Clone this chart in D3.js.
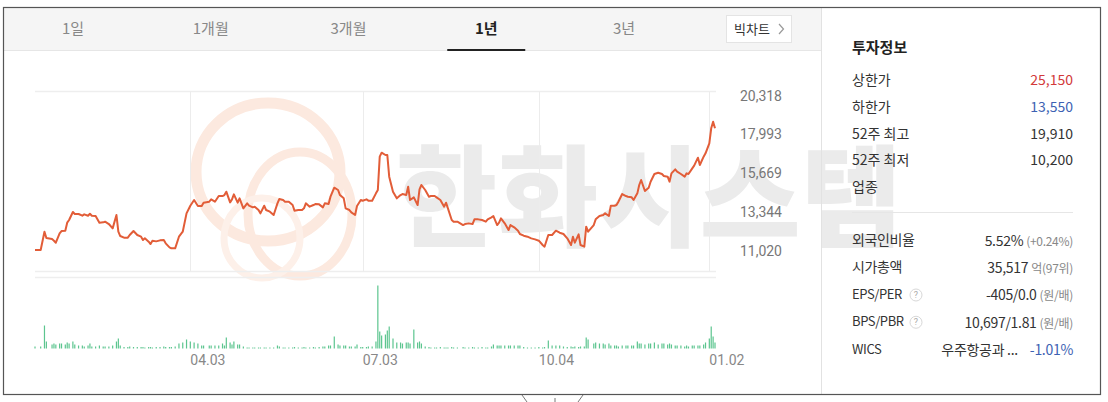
<!DOCTYPE html>
<html><head><meta charset="utf-8">
<script src="https://cdn.jsdelivr.net/npm/d3@7"></script>
<style>
html,body{margin:0;padding:0;background:#fff;}
svg{display:block;}
</style></head><body>
<svg id="c" width="1108" height="402"></svg>
<script>
// ---------------- DATA ----------------
const dates = [
"2024-01-12","2024-01-15","2024-01-17","2024-01-18","2024-01-21","2024-01-22","2024-01-23","2024-01-25","2024-01-26","2024-01-28",
"2024-01-29","2024-01-30","2024-02-01","2024-02-02","2024-02-04","2024-02-06","2024-02-07","2024-02-09","2024-02-10","2024-02-11",
"2024-02-13","2024-02-15","2024-02-17","2024-02-18","2024-02-20","2024-02-22","2024-02-24","2024-02-25","2024-02-26","2024-02-28",
"2024-03-01","2024-03-02","2024-03-04","2024-03-06","2024-03-08","2024-03-09","2024-03-10","2024-03-12","2024-03-13","2024-03-14",
"2024-03-16","2024-03-18","2024-03-20","2024-03-21","2024-03-23","2024-03-24","2024-03-26","2024-03-28","2024-03-30","2024-04-01",
"2024-04-03","2024-04-05","2024-04-07","2024-04-09","2024-04-10","2024-04-13","2024-04-14","2024-04-16","2024-04-18","2024-04-20",
"2024-04-21","2024-04-22","2024-04-24","2024-04-25","2024-04-26","2024-04-28","2024-04-29","2024-05-01","2024-05-03","2024-05-04",
"2024-05-06","2024-05-07","2024-05-09","2024-05-10","2024-05-12","2024-05-13","2024-05-15","2024-05-17","2024-05-19","2024-05-20",
"2024-05-22","2024-05-23","2024-05-25","2024-05-27","2024-05-28","2024-05-30","2024-06-01","2024-06-02","2024-06-03","2024-06-05",
"2024-06-07","2024-06-08","2024-06-10","2024-06-12","2024-06-13","2024-06-15","2024-06-16","2024-06-18","2024-06-20","2024-06-21",
"2024-06-23","2024-06-24","2024-06-26","2024-06-27","2024-06-29","2024-06-30","2024-07-02","2024-07-03","2024-07-05","2024-07-06",
"2024-07-08","2024-07-10","2024-07-11","2024-07-12","2024-07-13","2024-07-15","2024-07-16","2024-07-17","2024-07-19","2024-07-21",
"2024-07-23","2024-07-24","2024-07-26","2024-07-27","2024-07-28","2024-07-30","2024-08-01","2024-08-02","2024-08-03","2024-08-05",
"2024-08-07","2024-08-08","2024-08-10","2024-08-11","2024-08-13","2024-08-15","2024-08-16","2024-08-17","2024-08-19","2024-08-20",
"2024-08-22","2024-08-25","2024-08-26","2024-08-28","2024-08-30","2024-08-31","2024-09-02","2024-09-04","2024-09-06","2024-09-07",
"2024-09-09","2024-09-10","2024-09-12","2024-09-13","2024-09-14","2024-09-16","2024-09-18","2024-09-19","2024-09-21","2024-09-23",
"2024-09-24","2024-09-26","2024-09-28","2024-09-30","2024-10-02","2024-10-04","2024-10-06","2024-10-07","2024-10-09","2024-10-11",
"2024-10-13","2024-10-15","2024-10-17","2024-10-19","2024-10-21","2024-10-22","2024-10-23","2024-10-25","2024-10-26","2024-10-28",
"2024-10-29","2024-10-30","2024-11-02","2024-11-03","2024-11-05","2024-11-07","2024-11-08","2024-11-10","2024-11-11","2024-11-13",
"2024-11-14","2024-11-15","2024-11-17","2024-11-19","2024-11-20","2024-11-22","2024-11-23","2024-11-25","2024-11-26","2024-11-27",
"2024-11-29","2024-12-01","2024-12-02","2024-12-04","2024-12-06","2024-12-08","2024-12-09","2024-12-11","2024-12-12","2024-12-13",
"2024-12-15","2024-12-16","2024-12-18","2024-12-20","2024-12-21","2024-12-22","2024-12-24","2024-12-25","2024-12-27","2024-12-28",
"2024-12-30","2024-12-31","2025-01-02","2025-01-03","2025-01-04","2025-01-05"
];
const prices = [
11060,11060,12160,11780,11720,11620,11500,12060,12200,12220,
12700,12860,13340,13220,13220,13120,13200,13120,13240,13120,
13100,12700,12720,12760,12620,12360,13160,12160,11900,11800,
11800,11960,12200,11960,11860,11660,11760,11560,11420,11620,
11580,11640,11660,11460,11220,11160,11160,11860,12160,13260,
13720,14060,13700,13700,13900,13960,14100,13960,14300,14300,
14360,14560,13920,14100,14400,13900,14160,13560,13860,13720,
13620,13660,13460,13260,13720,13460,13360,13160,13860,14120,
14060,13960,13960,13760,13420,13460,13460,13560,13860,13660,
13760,13820,13800,13620,13860,13820,14260,14800,14660,14360,
14160,13560,13460,13320,13160,13700,14060,14020,14100,14020,
14020,14460,14660,16660,16900,16760,16760,15460,14560,14160,
14360,14420,14360,14860,14060,14220,13760,14700,14960,14660,
14260,14300,14300,14220,14060,13660,13900,13560,12860,12760,
12760,12560,12620,12660,12620,12900,12900,12860,12760,12900,
13020,13100,12560,12700,12960,12660,12260,12560,12420,12220,
12020,11920,11860,11760,11700,11620,11360,11260,11960,11960,
12220,12100,12020,11760,11360,11860,11500,12000,11360,11260,
12460,12160,12560,12900,13100,13160,13260,13100,13720,13720,
13760,13960,14420,14300,14260,14220,14060,14460,14960,15260,
14600,14800,15160,15620,15700,15620,15500,15460,15160,15660,
15900,15760,15620,15460,15660,15620,15960,16120,16600,16160,
16660,16860,17460,18360,18760,18360
];
// trading volume (relative units)
const volumes = [
2,2,23,7,4,5,4,5,5,4,
6,5,7,4,3,3,2,3,5,2,
2,3,2,2,2,3,7,10,3,1.5,
1.5,2,1.5,1.5,1.5,1.5,1,1.5,1.5,1,
1.5,1.5,2,1.5,1.5,1.5,2,5,6,9,
7,6,5,3,3,3,3,3,3,5,
3,11,6,4,7,4,4,2,1,1,
1,1,1,1,1,1,1,1,3,2,
1,1,1,1,1.5,1,1,1.5,1,1,
1.5,1,1.5,2,2,3,3,12,4,3,
3,3,2,2,2,4,1.5,1.5,1.5,2,
2,7,63,17,13,14,18,22,10,6,
6,5,6,6,5,19,6,7,5,2,
1.5,1,1,1,1.5,1,1,1,1.5,1,
1,1.5,1,1,1.5,1,1,1.5,1,1,
2,4,3,3,3,3,3,3,3,3,
3,1.5,1,1,1,1.5,1,1.5,8,3,
3,3,2,1.5,2,1.5,2,1.5,2,2,
11,9,5,6,5,5,4,5,3,3,
3,2,3,3,3,3,3,7,5,5,
4,5,5,6,4,5,5,4,5,4,
3,3,3,2,3,2,3,3,3,3,
4,6,10,22,12,6
];
const yTicks = [20318, 17993, 15669, 13344, 11020];
const xTickDates = ["2024-04-03","2024-07-03","2024-10-04","2025-01-02"];
const xTickLabels = ["04.03","07.03","10.04","01.02"];
const tabs = ["1일","1개월","3개월","1년","3년"];
const activeTab = "1년";
const watermark = "한화시스템";
const infoTitle = "투자정보";
const infoLabels1 = ["상한가","하한가","52주 최고","52주 최저","업종"];
const infoValues1 = ["25,150","13,550","19,910","10,200",""];
const infoLabels2 = ["외국인비율","시가총액","EPS/PER","BPS/PBR","WICS"];
const infoMain2 = ["5.52%","35,517","-405/0.0","10,697/1.81","우주항공과 ..."];
const infoSub2 = ["(+0.24%)","억(97위)","(원/배)","(원/배)","-1.01%"];

// ---------------- DRAW ----------------
const KR = "'Noto Sans CJK KR','Noto Sans',sans-serif";
const NUM = "Roboto,'Noto Sans',sans-serif";
const svg = d3.select("#c");
const parse = d3.timeParse("%Y-%m-%d");
const data = dates.map((d,i)=>({date:parse(d), price:prices[i], vol:volumes[i]}));

svg.append("rect").attr("x",0).attr("y",0).attr("width",1108).attr("height",402).attr("fill","#fff");

// watermark logo rings
const logo = svg.append("g").attr("fill","none").attr("stroke","#fce9df");
logo.append("ellipse").attr("cx",268).attr("cy",172).attr("rx",72).attr("ry",69).attr("stroke-width",11);
logo.append("ellipse").attr("cx",300).attr("cy",214).attr("rx",52).attr("ry",62).attr("stroke-width",9);
logo.append("ellipse").attr("cx",262).attr("cy",238).attr("rx",38).attr("ry",40).attr("stroke-width",7).attr("stroke","#fdf0e9");

// watermark text
svg.append("text").attr("x",396).attr("y",238)
  .attr("font-family",KR).attr("font-weight",900).attr("font-size",110)
  .attr("fill","#ebebeb").text(watermark);

// tab bar
svg.append("rect").attr("x",4).attr("y",8).attr("width",817).attr("height",42).attr("fill","#f5f5f5");
svg.append("line").attr("x1",4).attr("x2",821).attr("y1",50.5).attr("y2",50.5).attr("stroke","#e6e6e6");
const tabX = d3.scalePoint().domain(tabs).range([73,624]);
svg.selectAll(".tab").data(tabs).join("text")
  .attr("x",d=>tabX(d)).attr("y",34).attr("text-anchor","middle")
  .attr("font-family",KR).attr("font-size",15)
  .attr("font-weight",d=>d===activeTab?700:400)
  .attr("fill",d=>d===activeTab?"#222":"#888").text(d=>d);
svg.append("rect").attr("x",tabX(activeTab)-39).attr("y",49).attr("width",78).attr("height",2).attr("fill","#222");
svg.append("rect").attr("x",726.5).attr("y",15.5).attr("width",65).attr("height",27).attr("fill","#fff").attr("stroke","#e4e4e4");
svg.append("text").attr("x",734).attr("y",34).attr("font-family",KR).attr("font-size",13).attr("fill","#333").text("빅차트");
svg.append("path").attr("d","M779,24 L783.5,29 L779,34").attr("fill","none").attr("stroke","#999").attr("stroke-width",1.2);

// scales
const x = d3.scaleTime().domain(d3.extent(data,d=>d.date)).range([35,715]);
const y = d3.scaleLinear().domain([11020,20318]).range([250.7,95.7]);
const yv = d3.scaleLinear().domain([0,d3.max(volumes)]).range([348.5,285.5]);

// price panel frame
const frame = svg.append("g").attr("stroke","#eeeeee").attr("stroke-width",1.5);
frame.append("line").attr("x1",35).attr("x2",716).attr("y1",91.5).attr("y2",91.5);
frame.append("line").attr("x1",35).attr("x2",716).attr("y1",271.5).attr("y2",271.5);
frame.append("line").attr("x1",35).attr("x2",716).attr("y1",277.5).attr("y2",277.5);
svg.append("g").selectAll("line").data(xTickDates).join("line")
  .attr("x1",d=>Math.round(x(parse(d)))+0.5).attr("x2",d=>Math.round(x(parse(d)))+0.5)
  .attr("y1",91.5).attr("y2",271.5).attr("stroke","#ececec").attr("stroke-width",1);

// price line
svg.append("path").datum(data)
  .attr("d",d3.line().x(d=>x(d.date)).y(d=>y(d.price)))
  .attr("fill","none").attr("stroke","#e25d38").attr("stroke-width",2).attr("stroke-linejoin","round");

// volume bars
svg.append("g").selectAll("rect").data(data).join("rect")
  .attr("x",d=>x(d.date)-0.6).attr("width",1.2)
  .attr("y",d=>yv(d.vol)).attr("height",d=>yv(0)-yv(d.vol))
  .attr("fill","#5cc58f");

// y labels
svg.append("g").selectAll("text").data(yTicks).join("text")
  .attr("x",782).attr("y",d=>y(d)).attr("dy","0.36em").attr("text-anchor","end")
  .attr("font-family",NUM).attr("font-size",14).attr("fill","#777")
  .text(d=>d3.format(",")(d));

// x labels
svg.append("g").selectAll("text").data(xTickDates).join("text")
  .attr("x",d=>x(parse(d))).attr("y",365)
  .attr("font-family",NUM).attr("font-size",14).attr("fill","#888")
  .text((d,i)=>xTickLabels[i]);

// right panel divider
svg.append("line").attr("x1",821.5).attr("x2",821.5).attr("y1",8).attr("y2",395).attr("stroke","#e2e2e2");

// info panel
svg.append("text").attr("x",852).attr("y",53).attr("font-family",KR).attr("font-size",15)
  .attr("font-weight",700).attr("fill","#222").text(infoTitle);
const row1Y = d3.scalePoint().domain(infoLabels1).range([80,187]);
svg.append("g").selectAll("text").data(infoLabels1).join("text")
  .attr("x",852).attr("y",d=>row1Y(d)).attr("dy","0.36em")
  .attr("font-family",KR).attr("font-size",14).attr("fill","#333").text(d=>d);
const valColors = ["#d23a3a","#3d62b3","#333","#333","#333"];
svg.append("g").selectAll("text").data(infoValues1).join("text")
  .attr("x",1073).attr("y",(d,i)=>row1Y(infoLabels1[i])).attr("dy","0.36em").attr("text-anchor","end")
  .attr("font-family",KR).attr("font-size",14)
  .attr("fill",(d,i)=>valColors[i]).text(d=>d);
svg.append("line").attr("x1",852).attr("x2",1073).attr("y1",212.5).attr("y2",212.5).attr("stroke","#e6e6e6");

const row2Y = d3.scalePoint().domain(infoLabels2).range([240,349]);
svg.append("g").selectAll("text").data(infoLabels2).join("text")
  .attr("x",852).attr("y",d=>row2Y(d)).attr("dy","0.36em")
  .attr("font-family",KR).attr("font-size",d=>/^[A-Z]/.test(d)?13:14)
  .attr("letter-spacing",-0.4).attr("fill","#333").text(d=>d);
["EPS/PER","BPS/PBR"].forEach(l=>{
  const g = svg.append("g");
  g.append("circle").attr("cx",916).attr("cy",row2Y(l)+0.5).attr("r",6).attr("fill","#fff").attr("stroke","#d8d8d8");
  g.append("text").attr("x",916).attr("y",row2Y(l)).attr("dy","0.36em").attr("text-anchor","middle")
    .attr("font-family",NUM).attr("font-size",9).attr("fill","#aaa").text("?");
});
infoLabels2.forEach((l,i)=>{
  const t = svg.append("text").attr("x",1073).attr("y",row2Y(l)).attr("dy","0.36em").attr("text-anchor","end")
    .attr("font-family",KR).attr("letter-spacing",-0.3);
  t.append("tspan").attr("font-size",14).attr("fill","#333").text(infoMain2[i]);
  t.append("tspan").attr("dx",i===4?12:3).attr("font-size",i===4?14:12).attr("fill",i===4?"#3d62b3":"#888").text(infoSub2[i]);
});

// outer border
svg.append("rect").attr("x",3.5).attr("y",7.5).attr("width",1097).attr("height",387)
  .attr("fill","none").attr("stroke","#555").attr("stroke-width",1.2);
svg.append("path").attr("d","M522,395 L527,402 M583,395 L578,402 M555,398 L555,402")
  .attr("fill","none").attr("stroke","#777").attr("stroke-width",1);
</script>
</body></html>
